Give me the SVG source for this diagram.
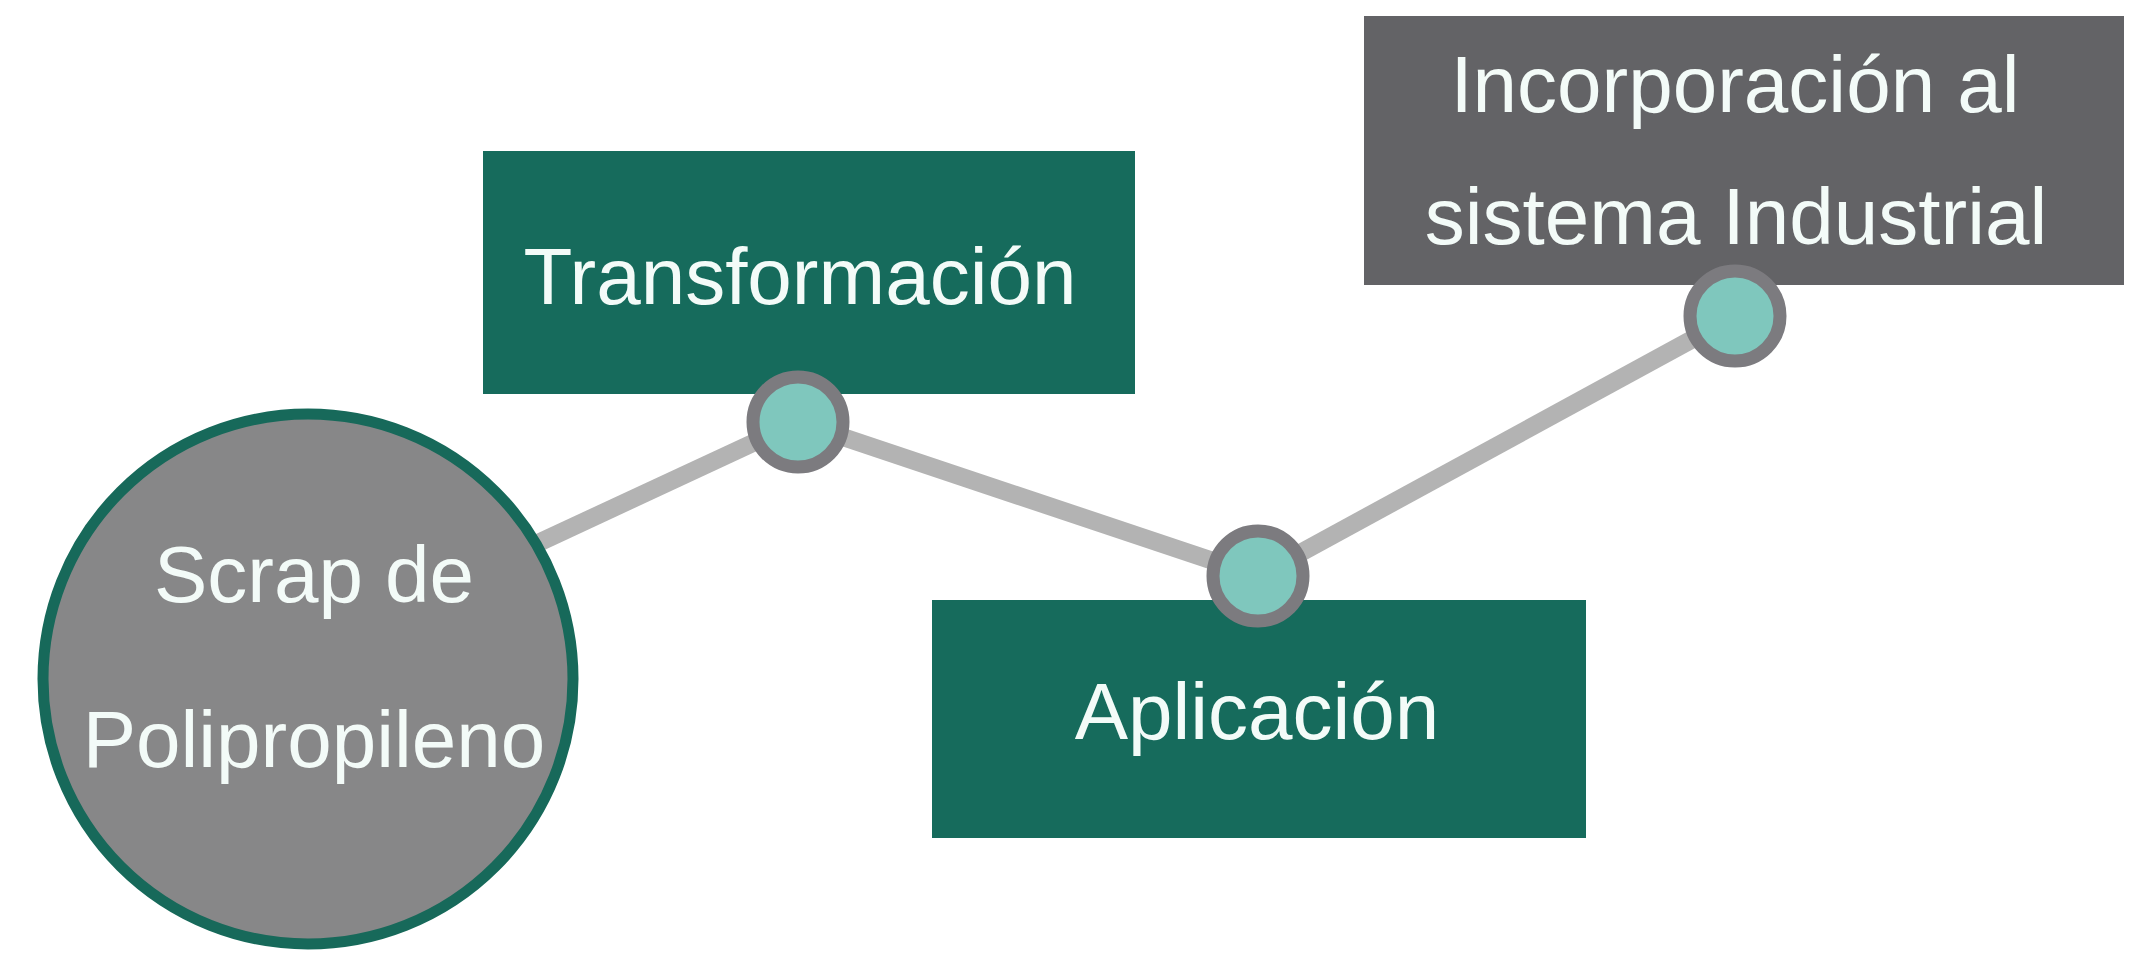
<svg xmlns="http://www.w3.org/2000/svg" width="2147" height="957" viewBox="0 0 2147 957">
<style>
.box{fill:#166b5c}
.gbox{fill:#636366}
.lbl{font-family:"Liberation Sans",Arial,sans-serif;font-size:80px;fill:#f3fbf8;text-anchor:middle}
.link{stroke:#b3b3b3;stroke-width:18;fill:none;stroke-linecap:butt}
.dot{fill:#7fc7bd;stroke:#7c7b7f;stroke-width:13}
</style>
<rect width="2147" height="957" fill="#ffffff"/>
<g id="connectors">
<line class="link" x1="480" y1="570" x2="798" y2="422"/>
<line class="link" x1="798" y1="422" x2="1258" y2="576"/>
<line class="link" x1="1258" y1="576" x2="1735" y2="316"/>
</g>
<g id="scrap">
<circle cx="308" cy="679" r="265" fill="#878788" stroke="#17695a" stroke-width="11"/>
<text class="lbl" x="314" y="602">Scrap de</text>
<text class="lbl" x="314" y="767">Polipropileno</text>
</g>
<g id="transformacion">
<rect class="box" x="483" y="151" width="652" height="243"/>
<text class="lbl" x="800" y="304">Transformación</text>
</g>
<g id="aplicacion">
<rect class="box" x="932" y="600" width="654" height="238"/>
<text class="lbl" x="1257" y="739">Aplicación</text>
</g>
<g id="incorporacion">
<rect class="gbox" x="1364" y="16" width="760" height="269"/>
<text class="lbl" x="1735" y="112">Incorporación al</text>
<text class="lbl" x="1736" y="244">sistema Industrial</text>
</g>
<g id="dots">
<circle id="dot1" class="dot" cx="798" cy="422" r="45"/>
<circle id="dot2" class="dot" cx="1258" cy="576" r="45"/>
<circle id="dot3" class="dot" cx="1735" cy="316" r="45"/>
</g>
</svg>
